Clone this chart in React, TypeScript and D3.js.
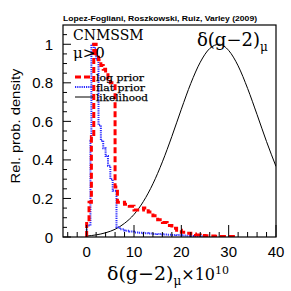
import * as d3 from 'd3'

// log prior histogram (bin edges + heights)
const logEdges = [0, 0.5, 1.0, 1.5, 2.0, 2.5, 3.0, 3.5, 4.0, 4.5, 5.0, 5.5, 6.0, 6.5, 7, 8, 9, 10, 11, 12, 13, 14, 15, 16, 17, 18, 19, 20, 21, 22, 23, 24, 25, 26, 27, 28, 29, 30, 31]
const logVals = [0.08, 0.18, 0.52, 1.0, 0.95, 0.92, 0.89, 0.87, 0.85, 0.82, 0.8, 0.8, 0.26, 0.18, 0.18, 0.17, 0.16, 0.14, 0.14, 0.15, 0.13, 0.11, 0.09, 0.075, 0.06, 0.045, 0.035, 0.025, 0.02, 0.015, 0.01, 0.008, 0.006, 0.005, 0.004, 0.003, 0.003, 0.002]

// flat prior histogram
const flatEdges = [0, 0.8, 1.0, 1.5, 2.0, 2.5, 3.0, 3.5, 4.0, 4.5, 5.0, 5.5, 6.3, 7, 8, 9, 10, 11, 12, 13, 14, 15, 16, 17, 18, 19, 20, 21, 22, 23, 24.5]
const flatVals = [0.06, 0.5, 1.0, 0.98, 0.92, 0.58, 0.5, 0.46, 0.42, 0.37, 0.3, 0.24, 0.05, 0.04, 0.033, 0.028, 0.024, 0.022, 0.02, 0.018, 0.016, 0.015, 0.013, 0.012, 0.011, 0.01, 0.008, 0.007, 0.005, 0.004]

// likelihood curve
const likeX = [0, 2, 4, 6, 8, 10, 12, 14, 16, 18, 20, 22, 24, 26, 28, 30, 32, 34, 36, 38, 40]
const likeY = [0.005, 0.011, 0.022, 0.04, 0.071, 0.117, 0.185, 0.276, 0.39, 0.522, 0.663, 0.797, 0.907, 0.978, 1.0, 0.968, 0.888, 0.771, 0.635, 0.495, 0.366]

const xTicks = [0, 10, 20, 30, 40]
const yTicks = [0, 0.2, 0.4, 0.6, 0.8, 1]

const W = 291
const H = 291
const L = 63, R = 276, T = 25, B = 237

function stepPoints(edges: number[], vals: number[]): [number, number][] {
  const pts: [number, number][] = [[edges[0], 0]]
  vals.forEach((v, i) => pts.push([edges[i], v]))
  pts.push([edges[edges.length - 1], 0])
  return pts
}

export default function App() {
  const x = d3.scaleLinear().domain([-5, 40]).range([L, R])
  const y = d3.scaleLinear().domain([0, 1.1]).range([B, T])

  const step = d3.line<[number, number]>()
    .x((d) => x(d[0]))
    .y((d) => y(d[1]))
    .curve(d3.curveStepAfter)

  const smooth = d3.line<number>()
    .x((d) => x(d))
    .y((_, i) => y(likeY[i]))
    .curve(d3.curveMonotoneX)

  const xMinor = d3.range(-4, 40, 2).filter((v) => v % 10 !== 0)
  const yMinor = d3.range(0.05, 1.1, 0.05).filter((v) => Math.abs(v * 5 - Math.round(v * 5)) > 0.01)

  const sans = 'Liberation Sans, Arial, sans-serif'
  const serif = 'DejaVu Serif, serif'
  const red = '#ff0000'
  const blue = '#2a2aff'

  return (
    <svg width={W} height={H} style={{ position: 'fixed', left: 0, top: 0, background: '#fff' }}>
      <defs>
        <clipPath id="plot">
          <rect x={L} y={T} width={R - L} height={B - T} />
        </clipPath>
      </defs>

      <text x={L} y={21} fontFamily={sans} fontWeight="bold" fontSize={7.2} textLength={194} lengthAdjust="spacingAndGlyphs">
        Lopez-Fogliani, Roszkowski, Ruiz, Varley (2009)
      </text>

      <g clipPath="url(#plot)">
        <path d={smooth(likeX) ?? ''} fill="none" stroke="#000" strokeWidth={1} />
        <path d={step(stepPoints(flatEdges, flatVals)) ?? ''} fill="none" stroke={blue} strokeWidth={2} strokeDasharray="1.2,1" />
        <path d={step(stepPoints(logEdges, logVals)) ?? ''} fill="none" stroke={red} strokeWidth={3} strokeDasharray="6,3" />
      </g>

      {/* ticks */}
      {xTicks.map((t) => (
        <line key={'xM' + t} x1={x(t)} x2={x(t)} y1={B} y2={B - 12} stroke="#000" />
      ))}
      {xMinor.map((t) => (
        <line key={'xm' + t} x1={x(t)} x2={x(t)} y1={B} y2={B - 5} stroke="#000" />
      ))}
      {yTicks.map((t) => (
        <line key={'yM' + t} x1={L} x2={L + 8} y1={y(t)} y2={y(t)} stroke="#000" />
      ))}
      {yMinor.map((t) => (
        <line key={'ym' + t} x1={L} x2={L + 4} y1={y(t)} y2={y(t)} stroke="#000" />
      ))}

      <rect x={L} y={T} width={R - L} height={B - T} fill="none" stroke="#000" strokeWidth={1.2} />

      {xTicks.map((t) => (
        <text key={'xl' + t} x={x(t)} y={257} textAnchor="middle" fontFamily={sans} fontSize={15}>
          {t}
        </text>
      ))}
      {yTicks.map((t) => (
        <text key={'yl' + t} x={53} y={y(t) + 5.5} textAnchor="end" fontFamily={sans} fontSize={15}>
          {t}
        </text>
      ))}

      <text transform="translate(20,126) rotate(-90)" textAnchor="middle" fontFamily={sans} fontSize={13.5} textLength={115} lengthAdjust="spacingAndGlyphs">
        Rel. prob. density
      </text>

      <text x={107} y={280} fontFamily={serif} fontSize={19}>
        δ(g−2)<tspan fontSize={12} dy={5}>μ</tspan>
        <tspan fontSize={16} dy={-5}>×10</tspan>
        <tspan fontSize={11} dy={-6}>10</tspan>
      </text>

      <text x={197} y={46} fontFamily={serif} fontSize={18}>
        δ(g−2)<tspan fontSize={12} dy={5}>μ</tspan>
      </text>

      <text x={73} y={40} fontFamily={serif} fontSize={14}>CNMSSM</text>
      <text x={73} y={58} fontFamily={serif} fontSize={15}>μ&gt;0</text>

      <line x1={75} x2={93} y1={77} y2={77} stroke={red} strokeWidth={3} strokeDasharray="6,3" />
      <line x1={75} x2={93} y1={87} y2={87} stroke={blue} strokeWidth={2} strokeDasharray="1.2,1" />
      <line x1={75} x2={93} y1={97} y2={97} stroke="#000" strokeWidth={1} />
      <g fontFamily={serif} fontSize={10} stroke="#000" strokeWidth={0.25}>
        <text x={96} y={80.5} textLength={48} lengthAdjust="spacingAndGlyphs">log prior</text>
        <text x={96} y={90.5} textLength={49} lengthAdjust="spacingAndGlyphs">flat prior</text>
        <text x={96} y={100.5} textLength={52} lengthAdjust="spacingAndGlyphs">likelihood</text>
      </g>
    </svg>
  )
}
